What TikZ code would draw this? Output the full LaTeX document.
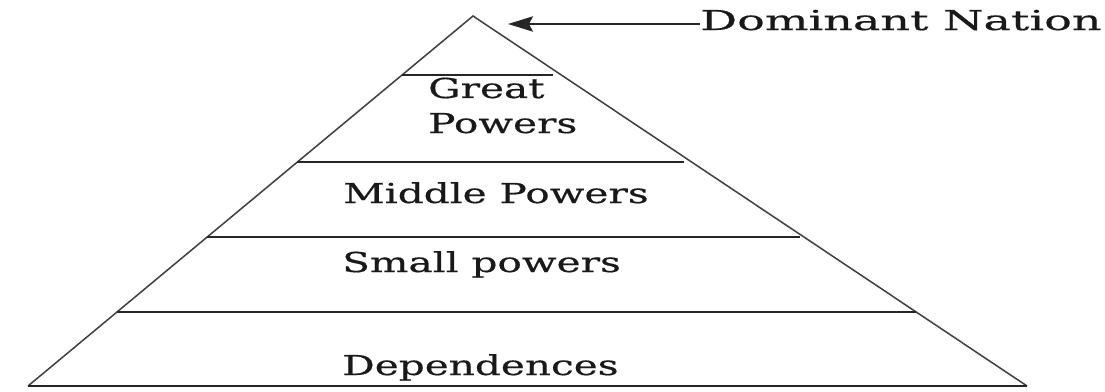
\documentclass[tikz,border=0pt]{standalone}
\usepackage{fontspec}
\setmainfont[FakeStretch=1.48,FakeBold=0.6]{DejaVu Serif}
\newfontfamily\domfont[FakeStretch=1.68,FakeBold=0.6]{DejaVu Serif}
\usetikzlibrary{calc,arrows.meta}
\begin{document}
\begin{tikzpicture}[x=0.03cm,y=-0.03cm,
  edge/.style={line width=1.3pt,draw=black!75},
  tier/.style={line width=1.4pt,draw=black!85},
  label/.style={anchor=base west,inner sep=0pt,font=\fontsize{23.4}{29.9}\selectfont,text=black!90,align=left}]
\useasboundingbox (0,0) rectangle (1105,391);
% outline of the pyramid
\coordinate (apex) at (473,16);
\coordinate (bl) at (28,386);
\coordinate (br) at (1027,386);
\draw[edge] (bl) -- (apex) -- (br);
\draw[tier] (bl) -- (br);
% horizontal tiers (right ends stop just short of the edge)
\foreach \t/\n/\g in {0.1595/a/8,0.3946/b/8,0.597/c/4,0.8/d/0}{
  \coordinate (L\n) at ($(apex)!\t!(bl)$);
  \coordinate (R\n) at ($(apex)!\t!(br)+(-\g,0)$);
  \draw[tier] (L\n) -- (R\n);
}
% tier labels
\node[label] (great) at (428,133) {Great\\Powers};
\node[label] (middle) at (343,203) {Middle Powers};
\node[label] (small) at (342,272) {Small powers};
\node[label] (dep) at (342,375) {Dependences};
% label pointing at the apex
\node[label,font=\fontsize{23.4}{29.9}\domfont] (dom) at (700,30) {Dominant Nation};
\coordinate (tail) at (700,24);
\coordinate (tip) at (508,24);
\draw[line width=1.4pt,draw=black!85,-{Stealth[length=7.5mm,width=4.6mm,inset=1.2mm]}] (tail) -- (tip);
\end{tikzpicture}
\end{document}
